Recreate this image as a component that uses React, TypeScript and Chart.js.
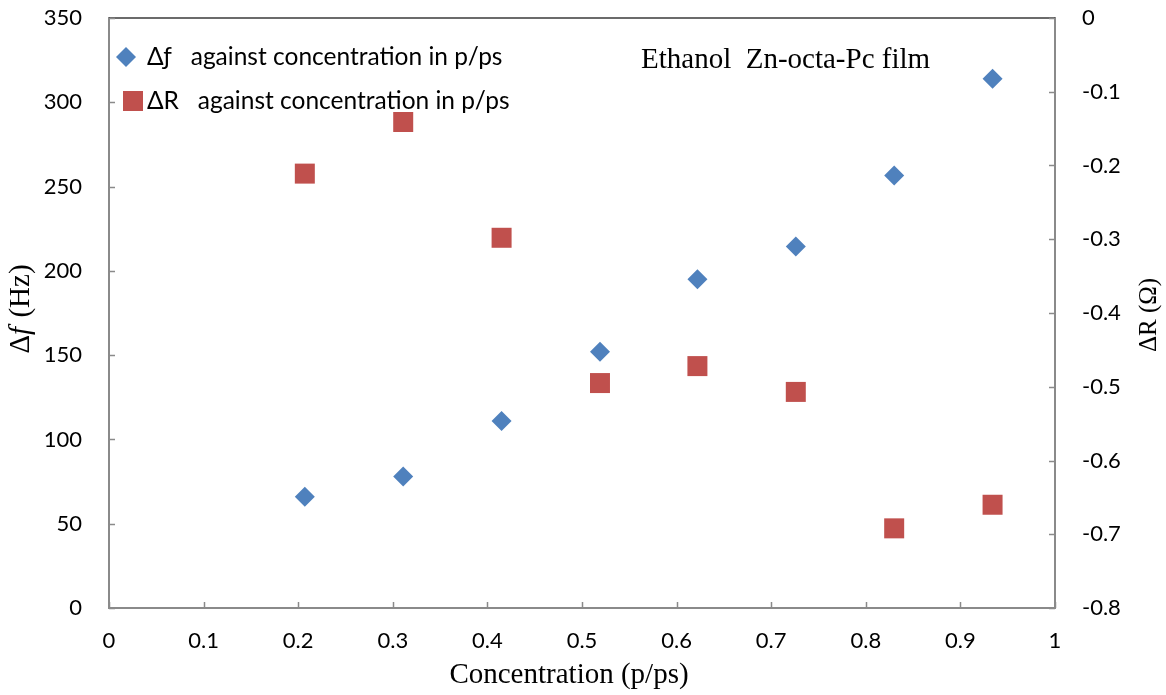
import React, { useEffect, useRef } from "react";
import { Chart, registerables } from "chart.js";

Chart.register(...registerables);

const concentration = [0.207, 0.311, 0.415, 0.519, 0.622, 0.726, 0.83, 0.934];
const deltaF = [66, 78, 111, 152, 195, 214.5, 256.5, 314];
const deltaR = [-0.211, -0.141, -0.298, -0.495, -0.472, -0.507, -0.692, -0.66];

const legendLabels = ["\u0394\u0192   against concentration in p/ps", "\u0394R   against concentration in p/ps"];
const annotationText = "Ethanol  Zn-octa-Pc film";
const xTitle = "Concentration (p/ps)";
const rightTitle = "\u0394R (\u03A9)";

const BLUE = "#4F81BD";
const RED = "#C0504D";
const AXIS = "#8a8a8a";
const SANS = "Lato, 'Open Sans', sans-serif";
const SERIF = "'Liberation Serif', 'DejaVu Serif', serif";
const TITLE_SIZE = 29;

const fmt = (v: number) => String(parseFloat(Number(v).toFixed(2)));

const decorPlugin = {
  id: "decor",
  afterDraw(chart: any) {
    const { ctx, chartArea } = chart;
    const { left, right, top, bottom } = chartArea;
    ctx.save();
    // top border
    ctx.strokeStyle = "#3a3a3a";
    ctx.lineWidth = 1.5;
    ctx.beginPath();
    ctx.moveTo(left, top);
    ctx.lineTo(right, top);
    ctx.stroke();
    // inward ticks
    ctx.strokeStyle = AXIS;
    ctx.lineWidth = 1.5;
    const tl = 6;
    const xs = chart.scales.x;
    xs.ticks.forEach((t: any) => {
      const px = Math.round(xs.getPixelForValue(t.value)) + 0.5;
      ctx.beginPath();
      ctx.moveTo(px, bottom);
      ctx.lineTo(px, bottom - tl);
      ctx.stroke();
    });
    const yl = chart.scales.y;
    yl.ticks.forEach((t: any) => {
      const py = Math.round(yl.getPixelForValue(t.value)) + 0.5;
      ctx.beginPath();
      ctx.moveTo(left, py);
      ctx.lineTo(left + tl, py);
      ctx.stroke();
    });
    const yr = chart.scales.y1;
    yr.ticks.forEach((t: any) => {
      const py = Math.round(yr.getPixelForValue(t.value)) + 0.5;
      ctx.beginPath();
      ctx.moveTo(right, py);
      ctx.lineTo(right - tl, py);
      ctx.stroke();
    });

    // axis titles
    ctx.fillStyle = "#000";
    ctx.textBaseline = "middle";
    ctx.textAlign = "center";
    ctx.font = `${TITLE_SIZE}px ${SERIF}`;
    ctx.fillText(xTitle, 569, 675);

    // left title: Δf (Hz) with italic f
    ctx.save();
    ctx.translate(21, 310);
    ctx.rotate(-Math.PI / 2);
    const p1 = "\u0394";
    const p2 = "f";
    const p3 = " (Hz)";
    ctx.font = `${TITLE_SIZE}px ${SERIF}`;
    const w1 = ctx.measureText(p1).width;
    const w3 = ctx.measureText(p3).width;
    ctx.font = `italic ${TITLE_SIZE}px ${SERIF}`;
    const w2 = ctx.measureText(p2).width;
    const total = w1 + w2 + w3;
    let cx = -total / 2;
    ctx.textAlign = "left";
    ctx.font = `${TITLE_SIZE}px ${SERIF}`;
    ctx.fillText(p1, cx, 0);
    cx += w1;
    ctx.font = `italic ${TITLE_SIZE}px ${SERIF}`;
    ctx.fillText(p2, cx, 0);
    cx += w2 + 2;
    ctx.font = `${TITLE_SIZE}px ${SERIF}`;
    ctx.fillText(p3, cx, 0);
    ctx.restore();

    // right title
    ctx.save();
    ctx.translate(1149, 315);
    ctx.rotate(-Math.PI / 2);
    ctx.textAlign = "center";
    ctx.font = `25px ${SERIF}`;
    ctx.fillText(rightTitle, 0, 0);
    ctx.restore();

    // annotation
    ctx.textAlign = "left";
    ctx.font = `${TITLE_SIZE}px ${SERIF}`;
    ctx.fillText(annotationText, 641, 60);

    // legend
    ctx.font = `24.5px ${SANS}`;
    ctx.fillStyle = BLUE;
    ctx.beginPath();
    ctx.moveTo(116, 57);
    ctx.lineTo(126, 47);
    ctx.lineTo(136, 57);
    ctx.lineTo(126, 67);
    ctx.closePath();
    ctx.fill();
    ctx.fillStyle = RED;
    ctx.fillRect(123, 91, 20, 20);
    ctx.fillStyle = "#000";
    ctx.fillText(legendLabels[0], 147, 57);
    ctx.fillText(legendLabels[1], 147, 101);
    ctx.restore();
  },
};

export default function App() {
  const ref = useRef<HTMLCanvasElement>(null);
  useEffect(() => {
    document.body.style.margin = "0";
    const tickFont = { family: SANS, size: 22 };
    const chart = new Chart(ref.current!, {
      type: "scatter",
      data: {
        datasets: [
          {
            label: legendLabels[0],
            data: concentration.map((c, i) => ({ x: c, y: deltaF[i] })),
            yAxisID: "y",
            pointStyle: "rectRot",
            pointRadius: 10,
            pointHoverRadius: 10,
            backgroundColor: BLUE,
            borderColor: BLUE,
            borderWidth: 0,
          },
          {
            label: legendLabels[1],
            data: concentration.map((c, i) => ({ x: c, y: deltaR[i] })),
            yAxisID: "y1",
            pointStyle: "rect",
            pointRadius: 14.14,
            pointHoverRadius: 14.14,
            backgroundColor: RED,
            borderColor: RED,
            borderWidth: 0,
          },
        ],
      },
      options: {
        animation: false,
        responsive: true,
        maintainAspectRatio: false,
        layout: { padding: { top: 18, left: 0, right: 0, bottom: 0 } },
        plugins: { legend: { display: false }, tooltip: { enabled: false } },
        scales: {
          x: {
            type: "linear",
            min: 0,
            max: 1,
            ticks: { stepSize: 0.1, padding: 20, color: "#000", font: tickFont, callback: (v: any) => fmt(v) },
            grid: { display: false, drawTicks: false },
            border: { display: true, color: AXIS, width: 2 },
            afterFit: (s: any) => { s.height = 87; s.paddingLeft = 0; s.paddingRight = 0; },
          },
          y: {
            type: "linear",
            position: "left",
            min: 0,
            max: 350,
            ticks: { stepSize: 50, padding: 27, color: "#000", font: tickFont, callback: (v: any) => fmt(v) },
            grid: { display: false, drawTicks: false },
            border: { display: true, color: AXIS, width: 2 },
            afterFit: (s: any) => { s.width = 109; s.paddingTop = 0; s.paddingBottom = 0; },
          },
          y1: {
            type: "linear",
            position: "right",
            min: -0.8,
            max: 0,
            ticks: { stepSize: 0.1, padding: 27, color: "#000", font: tickFont, callback: (v: any) => fmt(v) },
            grid: { display: false, drawTicks: false },
            border: { display: true, color: AXIS, width: 2 },
            afterFit: (s: any) => { s.width = 111; s.paddingTop = 0; s.paddingBottom = 0; },
          },
        },
      },
      plugins: [decorPlugin],
    });
    return () => chart.destroy();
  }, []);
  return (
    <div style={{ width: 1166, height: 695, position: "relative" }}>
      <canvas ref={ref} />
    </div>
  );
}
